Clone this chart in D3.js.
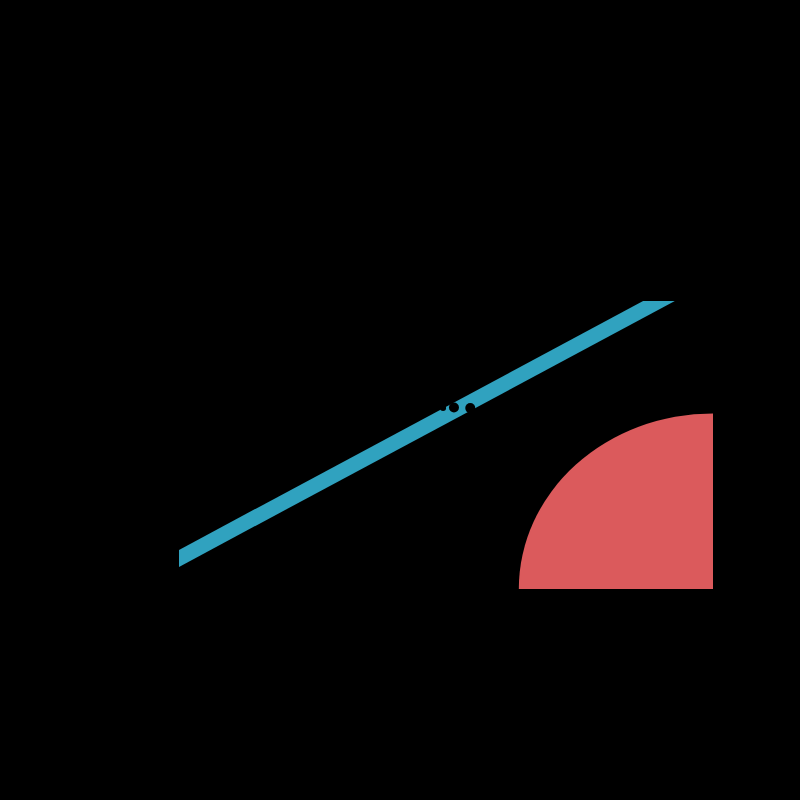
<!DOCTYPE html>
<html>
<head>
<meta charset="utf-8">
<script src="https://cdn.jsdelivr.net/npm/d3@7"></script>
<style>
  html, body { margin: 0; padding: 0; background: #000; }
  svg { display: block; }
</style>
</head>
<body>
<div id="chart"></div>
<script>
// Data
const xDomain = [0, 2.75];
const yDomain = [0, 1.64];
const trendLine = [
    { x: -0.1, y: 0.115 },
    { x: 2.75, y: 1.805 }
];
const sector = { cx: 2.75, cy: 0, r: 1 };
const markers = [
    { x: 1.36, y: 1.03, r: 3 },
    { x: 1.416, y: 1.034, r: 5 },
    { x: 1.50, y: 1.03, r: 5 }
];

const COLORS = { line: '#30A2BF', sector: '#DB5A5C', marker: '#000' };

document.addEventListener('DOMContentLoaded', function() {
    drawChart();
});

function drawChart() {
    const width = 800, height = 800;
    const margin = { top: 301, right: 87, bottom: 211, left: 179 };
    const w = width - margin.left - margin.right;
    const h = height - margin.top - margin.bottom;

    const svg = d3.select('#chart')
        .append('svg')
        .attr('width', width)
        .attr('height', height)
        .style('background', '#000');

    svg.append('defs').append('clipPath')
        .attr('id', 'plotClip')
        .append('rect')
        .attr('width', w)
        .attr('height', h);

    const g = svg.append('g')
        .attr('transform', `translate(${margin.left},${margin.top})`);

    const x = d3.scaleLinear().domain(xDomain).range([0, w]);
    const y = d3.scaleLinear().domain(yDomain).range([h, 0]);

    const plot = g.append('g').attr('clip-path', 'url(#plotClip)');

    // Sector (quarter ellipse in pixels, circle in data units)
    plot.append('ellipse')
        .attr('cx', x(sector.cx))
        .attr('cy', y(sector.cy))
        .attr('rx', x(sector.r) - x(0))
        .attr('ry', y(0) - y(sector.r))
        .attr('fill', COLORS.sector);

    // Thick trend line
    const line = d3.line()
        .x(d => x(d.x))
        .y(d => y(d.y));

    plot.append('path')
        .datum(trendLine)
        .attr('fill', 'none')
        .attr('stroke', COLORS.line)
        .attr('stroke-width', 15)
        .attr('d', line);

    // Small dark markers
    plot.selectAll('circle.marker')
        .data(markers)
        .enter()
        .append('circle')
        .attr('class', 'marker')
        .attr('cx', d => x(d.x))
        .attr('cy', d => y(d.y))
        .attr('r', d => d.r)
        .attr('fill', COLORS.marker);
}
</script>
</body>
</html>
